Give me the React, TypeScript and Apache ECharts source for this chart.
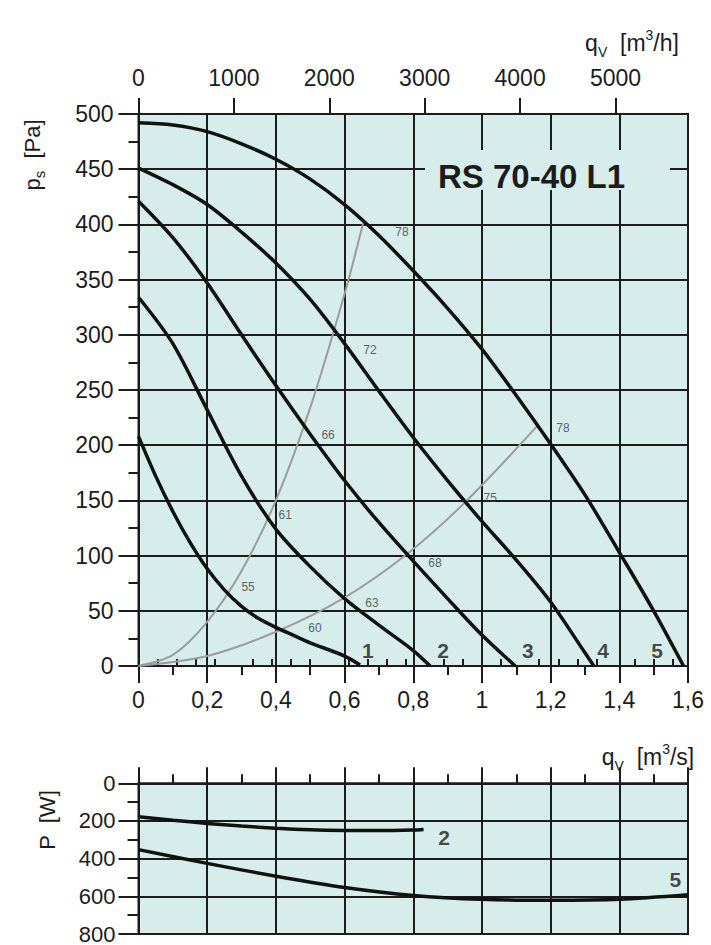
import React, { useEffect, useRef } from "react";
import * as echarts from "echarts";

// ---- data ----
// pressure curves: [q m3/s, ps Pa]
const curve1 = [[0, 208], [0.05, 172], [0.1, 140], [0.15, 112], [0.2, 88], [0.25, 69], [0.3, 54], [0.35, 43], [0.4, 35], [0.45, 28], [0.5, 21], [0.6, 9], [0.645, 1]];
const curve2 = [[0, 334], [0.1, 292], [0.2, 232], [0.3, 172], [0.4, 124], [0.5, 90], [0.6, 61], [0.7, 37], [0.8, 14], [0.849, 0]];
const curve3 = [[0, 421], [0.1, 388], [0.2, 347], [0.3, 300], [0.4, 254], [0.5, 210], [0.6, 168], [0.7, 130], [0.8, 95], [0.9, 61], [1.0, 28], [1.097, 0]];
const curve4 = [[0, 451], [0.1, 436], [0.2, 418], [0.3, 393], [0.4, 365], [0.5, 332], [0.6, 292], [0.7, 249], [0.8, 207], [0.9, 168], [1.0, 131], [1.1, 96], [1.2, 58], [1.3, 12], [1.326, 0]];
const curve5 = [[0, 492], [0.1, 490], [0.2, 484], [0.3, 473], [0.4, 459], [0.5, 441], [0.6, 418], [0.7, 390], [0.8, 358], [0.9, 324], [1.0, 287], [1.1, 245], [1.2, 201], [1.3, 155], [1.4, 103], [1.5, 50], [1.587, 0]];
// efficiency (system) lines
const effLineA = [[0, 0], [0.1, 10], [0.2, 40], [0.3, 86], [0.4, 150], [0.5, 234], [0.6, 337], [0.654, 401]];
const effLineB = [[0, 0], [0.2, 9], [0.4, 31], [0.6, 62], [0.78, 101], [0.95, 148], [1.16, 217]];
// efficiency labels [q, ps, text]
const effLabels = [
  [0.767, 393, "78"], [0.674, 286, "72"], [0.552, 209, "66"], [0.427, 137, "61"], [0.319, 72, "55"],
  [0.514, 34, "60"], [0.68, 57, "63"], [0.863, 93, "68"], [1.024, 152, "75"], [1.236, 216, "78"],
];
// curve number labels [q, ps, text]
const curveLabels = [[0.668, 14, "1"], [0.887, 14, "2"], [1.134, 14, "3"], [1.353, 14, "4"], [1.51, 14, "5"]];
// power curves [q, P W]
const power2 = [[0, 178], [0.1, 196], [0.2, 213], [0.3, 227], [0.4, 238], [0.5, 246], [0.6, 250], [0.7, 251], [0.8, 248], [0.83, 245]];
const power5 = [[0, 352], [0.2, 425], [0.4, 493], [0.6, 553], [0.8, 595], [1.0, 616], [1.2, 621], [1.4, 616], [1.6, 592]];
const powerLabels = [[0.89, 289, "2"], [1.563, 510, "5"]];
// tick values
const mhMajorTicks = [0, 1000, 2000, 3000, 4000, 5000];
const mhMinorTicks = [200, 400, 600, 800, 1200, 1400, 1600, 1800, 2200, 2400, 2600, 2800, 3200, 3400, 3600, 3800, 4200, 4400, 4600, 4800, 5200, 5400, 5600];

const FONT = '"Liberation Sans", Arial, Helvetica, sans-serif';
const INK = "#1c1c1c";
const BG = "#d6edeb";
const GRIDLINE = { color: INK, width: 2 };

export default function App() {
  const ref = useRef<HTMLDivElement>(null);
  useEffect(() => {
    if (!ref.current) return;
    const chart = echarts.init(ref.current, null, { renderer: "svg" });
    const lbl = (size: number, margin: number, extra: any = {}) => ({
      fontSize: size, fontFamily: FONT, color: INK, margin, ...extra,
    });
    const commaFmt = (v: number) => String(Math.round(v * 10) / 10).replace(".", ",");
    const blackLine = (data: any[], xi: number, yi: number) => ({
      type: "line", data, xAxisIndex: xi, yAxisIndex: yi, smooth: 0.3, symbol: "none",
      lineStyle: { color: "#111", width: 3.5 }, z: 4, silent: true,
    });
    const grayLine = (data: any[]) => ({
      type: "line", data, xAxisIndex: 0, yAxisIndex: 0, smooth: 0.3, symbol: "none",
      lineStyle: { color: "#9c9c9c", width: 2 }, z: 3, silent: true,
    });
    const textSeries = (data: any[], xi: number, yi: number, style: any) => ({
      type: "scatter", data, xAxisIndex: xi, yAxisIndex: yi, symbolSize: 0,
      itemStyle: { color: "transparent" }, z: 6, silent: true,
      label: { show: true, position: "inside", formatter: (p: any) => p.data[2], fontFamily: FONT, ...style },
    });
    const rot = Math.PI / 2;
    const richMain = (size: number) => ({ fontSize: size, fontFamily: FONT, fill: INK, color: INK, lineHeight: size + 8 });
    const richSub = (size: number) => ({ fontSize: size, fontFamily: FONT, fill: INK, color: INK, lineHeight: size, verticalAlign: "bottom" });
    const richSup = (size: number) => ({ fontSize: size, fontFamily: FONT, fill: INK, color: INK, lineHeight: size, verticalAlign: "top" });

    chart.setOption({
      animation: false,
      grid: [
        { left: 138.5, top: 114, width: 549.5, height: 552, show: true, backgroundColor: BG, borderColor: INK, borderWidth: 2 },
        { left: 138.5, top: 783.3, width: 549.5, height: 156.7, show: true, backgroundColor: BG, borderColor: INK, borderWidth: 2 },
      ],
      xAxis: [
        {
          gridIndex: 0, type: "value", position: "bottom", min: 0, max: 1.6, interval: 0.2,
          axisLine: { show: true, onZero: false, lineStyle: GRIDLINE },
          axisTick: { show: true, length: 17, lineStyle: GRIDLINE },
          minorTick: { show: true, splitNumber: 2, length: 9, lineStyle: GRIDLINE },
          axisLabel: lbl(23, 22, { formatter: commaFmt }),
          splitLine: { show: true, lineStyle: GRIDLINE },
        },
        {
          gridIndex: 0, type: "value", position: "top", min: 0, max: 5760, interval: 1000,
          axisLine: { show: true, onZero: false, lineStyle: GRIDLINE },
          axisTick: { show: true, length: 16, lineStyle: GRIDLINE, customValues: mhMajorTicks },
          axisLabel: lbl(23, 25, { customValues: mhMajorTicks, formatter: (v: number) => String(Math.round(v)) }),
          splitLine: { show: false },
        },
        {
          gridIndex: 0, type: "value", position: "top", min: 0, max: 5760, interval: 200,
          axisLine: { show: false },
          axisTick: { show: true, length: 7, lineStyle: GRIDLINE, customValues: mhMinorTicks },
          axisLabel: { show: false },
          splitLine: { show: false },
        },
        {
          gridIndex: 1, type: "value", position: "top", min: 0, max: 1.6, interval: 0.2,
          axisLine: { show: true, onZero: false, lineStyle: GRIDLINE },
          axisTick: { show: true, length: 16, lineStyle: GRIDLINE },
          minorTick: { show: true, splitNumber: 2, length: 9, lineStyle: GRIDLINE },
          axisLabel: { show: false },
          splitLine: { show: true, lineStyle: GRIDLINE },
        },
      ],
      yAxis: [
        {
          gridIndex: 0, type: "value", min: 0, max: 500, interval: 50,
          axisLine: { show: true, onZero: false, lineStyle: GRIDLINE },
          axisTick: { show: true, length: 20, lineStyle: GRIDLINE },
          minorTick: { show: true, splitNumber: 2, length: 10, lineStyle: GRIDLINE },
          axisLabel: lbl(23, 25),
          splitLine: { show: true, lineStyle: GRIDLINE },
        },
        {
          gridIndex: 1, type: "value", inverse: true, min: 0, max: 800, interval: 200,
          axisLine: { show: true, onZero: false, lineStyle: GRIDLINE },
          axisTick: { show: true, length: 20, lineStyle: GRIDLINE },
          minorTick: { show: true, splitNumber: 2, length: 11, lineStyle: GRIDLINE },
          axisLabel: lbl(22, 23),
          splitLine: { show: true, lineStyle: GRIDLINE },
        },
      ],
      series: [
        grayLine(effLineA),
        grayLine(effLineB),
        blackLine(curve1, 0, 0),
        blackLine(curve2, 0, 0),
        blackLine(curve3, 0, 0),
        blackLine(curve4, 0, 0),
        blackLine(curve5, 0, 0),
        blackLine(power2, 3, 1),
        blackLine(power5, 3, 1),
        textSeries(effLabels, 0, 0, { fontSize: 12, color: "#3a3a3a" }),
        textSeries(curveLabels, 0, 0, { fontSize: 21, fontWeight: "bold", color: INK }),
        textSeries(powerLabels, 3, 1, { fontSize: 21, fontWeight: "bold", color: INK }),
      ],
      graphic: [
        { type: "rect", z: 10, shape: { x: 425, y: 150, width: 245, height: 40 }, style: { fill: BG } },
        {
          type: "text", z: 11, x: 531.5, y: 176,
          style: { text: "RS 70-40 L1", font: `bold 33px ${FONT}`, fill: INK, align: "center", verticalAlign: "middle", textAlign: "center", textVerticalAlign: "middle" },
        },
        {
          type: "text", z: 11, x: 32, y: 155, rotation: rot,
          style: {
            text: "{m|p}{s|s}{m|  [Pa]}", align: "center", verticalAlign: "middle", textAlign: "center", textVerticalAlign: "middle",
            rich: { m: richMain(22), s: richSub(15) },
          },
        },
        {
          type: "text", z: 11, x: 47, y: 820, rotation: rot,
          style: {
            text: "{m|P  [W]}", align: "center", verticalAlign: "middle", textAlign: "center", textVerticalAlign: "middle",
            rich: { m: richMain(22) },
          },
        },
        {
          type: "text", z: 11, x: 632, y: 43,
          style: {
            text: "{m|q}{s|V}{m|  [m}{p|3}{m|/h]}", align: "center", verticalAlign: "middle", textAlign: "center", textVerticalAlign: "middle",
            rich: { m: richMain(23), s: richSub(14), p: richSup(14) },
          },
        },
        {
          type: "text", z: 11, x: 648, y: 757,
          style: {
            text: "{m|q}{s|V}{m|  [m}{p|3}{m|/s]}", align: "center", verticalAlign: "middle", textAlign: "center", textVerticalAlign: "middle",
            rich: { m: richMain(23), s: richSub(14), p: richSup(14) },
          },
        },
      ],
    });
    return () => chart.dispose();
  }, []);
  return <div ref={ref} style={{ position: "absolute", left: 0, top: 0, width: 711, height: 945 }} />;
}
